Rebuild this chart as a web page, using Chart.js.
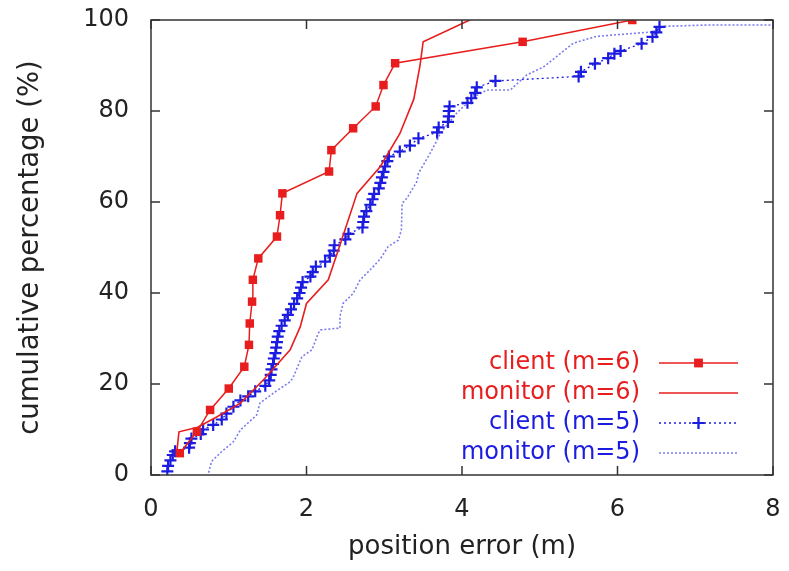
<!DOCTYPE html>
<html>
<head>
<meta charset="utf-8">
<script src="https://cdn.jsdelivr.net/npm/chart.js@4/dist/chart.umd.min.js"></script>
<style>
  html, body { margin: 0; padding: 0; background: #fff; }
  #wrap { width: 789px; height: 571px; }
</style>
</head>
<body>
<div id="wrap"><canvas id="cdfChart"></canvas></div>
<script>
// series values (x = position error in m, y = cumulative %)
const clientM6X = [0.37, 0.59, 0.76, 1.0, 1.2, 1.26, 1.27, 1.3, 1.31, 1.38, 1.62, 1.66, 1.69, 2.29, 2.32, 2.6, 2.89, 2.99, 3.14, 4.78, 6.19];
const clientM6Y = [4.8, 9.5, 14.3, 19.0, 23.8, 28.6, 33.3, 38.1, 42.9, 47.6, 52.4, 57.1, 61.9, 66.7, 71.4, 76.2, 81.0, 85.7, 90.5, 95.2, 100];

const monitorM6X = [0.33, 0.36, 0.6, 0.85, 1.15, 1.45, 1.79, 1.92, 2.0, 2.28, 2.42, 2.65, 2.95, 3.2, 3.38, 3.46, 3.5, 4.1];
const monitorM6Y = [4.8, 9.5, 10.5, 12.8, 15.8, 21.0, 27.5, 32.6, 37.7, 42.9, 50.0, 61.9, 67.8, 75.0, 82.6, 90.0, 95.2, 100];

const clientM5X = [0.21, 0.22, 0.25, 0.28, 0.31, 0.49, 0.5, 0.52, 0.64, 0.67, 0.8, 0.91, 0.97, 1.06, 1.15, 1.25, 1.34, 1.47, 1.52, 1.54,
  1.55, 1.57, 1.58, 1.6, 1.61, 1.62, 1.63, 1.65, 1.68, 1.72, 1.76, 1.8, 1.84, 1.88, 1.91, 1.93, 1.95, 2.05, 2.08, 2.12,
  2.24, 2.3, 2.35, 2.36, 2.5, 2.54, 2.72, 2.73, 2.74, 2.77, 2.82, 2.85, 2.87, 2.93, 2.95, 2.97, 2.99, 3.01, 3.04, 3.06,
  3.2, 3.33, 3.44, 3.68, 3.7, 3.82, 3.83, 3.83, 3.84, 4.07, 4.12, 4.17, 4.19, 4.43, 5.5, 5.53, 5.71, 5.88, 5.96, 6.04,
  6.31, 6.45, 6.5, 6.54];
const clientM5Y = [0.8, 2.0, 3.2, 4.4, 5.2, 6.0, 7.0, 8.0, 9.0, 10.0, 11.0, 12.2, 13.5, 15.0, 16.4, 17.3, 18.4, 19.6, 20.8, 22.0,
  23.2, 24.4, 25.6, 26.8, 28.0, 29.2, 30.4, 31.6, 32.8, 34.0, 35.2, 36.4, 37.6, 38.8, 40.0, 41.2, 42.4, 43.6, 44.6, 45.8,
  46.9, 48.2, 49.3, 50.5, 51.8, 53.0, 54.4, 55.6, 56.8, 58.0, 59.4, 60.6, 61.8, 63.0, 64.2, 65.4, 66.6, 67.8, 69.0, 70.0,
  71.1, 72.4, 74.0, 75.3, 76.4, 77.6, 78.8, 80.0, 81.0, 81.8, 82.8, 84.0, 85.2, 86.6, 87.6, 88.6, 90.4, 91.6, 92.6, 93.2,
  94.8, 96.3, 97.3, 98.5];

const monitorM5X = [0.74, 0.78, 0.9, 1.06, 1.15, 1.36, 1.4, 1.6, 1.79, 1.83, 1.94, 2.07, 2.15, 2.18, 2.43, 2.43, 2.47, 2.6, 2.69, 2.82,
  2.95, 3.05, 3.18, 3.22, 3.23, 3.29, 3.42, 3.44, 3.59, 3.68, 3.72, 3.93, 4.15, 4.32, 4.62, 4.83, 5.05, 5.43, 5.73, 6.46,
  6.59, 7.15, 8.0];
const monitorM5Y = [0.5, 3.0, 5.0, 7.3, 9.9, 13.2, 15.8, 18.3, 20.5, 21.5, 26.0, 27.5, 31.1, 31.9, 32.3, 34.8, 37.7, 39.9, 42.9, 45.1,
  47.5, 50.2, 51.6, 53.8, 59.7, 60.8, 64.5, 66.3, 70.7, 73.6, 75.1, 79.5, 83.1, 84.6, 84.6, 87.9, 89.7, 94.9, 96.4, 97.4,
  98.6, 98.9, 98.9];

const seriesLabels = ["client (m=6)", "monitor (m=6)", "client (m=5)", "monitor (m=5)"];
const xTicks = [0, 2, 4, 6, 8];
const yTicks = [0, 20, 40, 60, 80, 100];

const FONT = "'DejaVu Sans', sans-serif";
const RED = "#e81e1e";
const BLUE = "#1c1ce0";
const LIGHTBLUE = "#7c7cee";

function pairs(xs, ys) {
  return xs.map((x, i) => ({ x: x, y: ys[i] }));
}

// no extra room for overflowing tick labels, the layout padding decides the plot box
function noOverflow(scale) {
  scale.paddingTop = 0;
  scale.paddingBottom = 0;
  scale.paddingLeft = 0;
  scale.paddingRight = 0;
}

// frame with inward ticks on all four sides (gnuplot look)
const framePlugin = {
  id: "frame",
  afterDatasetsDraw(chart) {
    const { ctx, chartArea: a, scales } = chart;
    const len = 9;
    ctx.save();
    ctx.strokeStyle = "#333";
    ctx.lineWidth = 1.5;
    ctx.strokeRect(a.left, a.top, a.right - a.left, a.bottom - a.top);
    ctx.beginPath();
    xTicks.forEach((v) => {
      const px = scales.x.getPixelForValue(v);
      ctx.moveTo(px, a.bottom); ctx.lineTo(px, a.bottom - len);
      ctx.moveTo(px, a.top); ctx.lineTo(px, a.top + len);
    });
    yTicks.forEach((v) => {
      const py = scales.y.getPixelForValue(v);
      ctx.moveTo(a.left, py); ctx.lineTo(a.left + len, py);
      ctx.moveTo(a.right, py); ctx.lineTo(a.right - len, py);
    });
    ctx.stroke();
    ctx.restore();
  },
};

// key inside the plot: right aligned coloured text, sample on the right
const keyPlugin = {
  id: "key",
  afterDraw(chart) {
    const { ctx, chartArea: a } = chart;
    const textRight = a.right - 133;
    const sx0 = a.right - 114;
    const sx1 = a.right - 35;
    const textColors = [RED, RED, BLUE, BLUE];
    ctx.save();
    ctx.font = "24px " + FONT;
    ctx.textAlign = "right";
    ctx.textBaseline = "middle";
    chart.data.datasets.forEach((ds, i) => {
      const y = a.bottom - 112 + 30 * i;
      ctx.fillStyle = textColors[i];
      ctx.fillText(seriesLabels[i], textRight, y);
      ctx.strokeStyle = ds.borderColor;
      ctx.lineWidth = ds.borderWidth;
      ctx.setLineDash(ds.borderDash || []);
      ctx.beginPath();
      ctx.moveTo(sx0, y);
      ctx.lineTo(sx1, y);
      ctx.stroke();
      ctx.setLineDash([]);
      if (ds.pointRadius > 0) {
        Chart.helpers.drawPoint(ctx, {
          pointStyle: ds.pointStyle,
          radius: ds.pointRadius,
          borderWidth: ds.pointBorderWidth,
        }, (sx0 + sx1) / 2, y);
        if (ds.pointStyle === "rect") {
          ctx.fillStyle = ds.pointBackgroundColor;
          ctx.fill();
        } else {
          ctx.strokeStyle = ds.pointBorderColor;
          ctx.lineWidth = ds.pointBorderWidth;
          ctx.stroke();
        }
      }
    });
    ctx.restore();
  },
};

const ctx = document.getElementById("cdfChart").getContext("2d");

new Chart(ctx, {
  type: "scatter",
  data: {
    datasets: [
      {
        label: seriesLabels[0],
        data: pairs(clientM6X, clientM6Y),
        showLine: true,
        borderColor: RED,
        borderWidth: 1.5,
        pointStyle: "rect",
        pointRadius: 6,
        pointBackgroundColor: RED,
        pointBorderColor: RED,
        pointBorderWidth: 0,
        tension: 0,
      },
      {
        label: seriesLabels[1],
        data: pairs(monitorM6X, monitorM6Y),
        showLine: true,
        borderColor: RED,
        borderWidth: 1.6,
        pointRadius: 0,
        tension: 0,
      },
      {
        label: seriesLabels[2],
        data: pairs(clientM5X, clientM5Y),
        showLine: true,
        borderColor: BLUE,
        borderWidth: 1.3,
        borderDash: [2, 3],
        pointStyle: "cross",
        pointRadius: 6,
        pointBorderColor: BLUE,
        pointBorderWidth: 2.2,
        tension: 0,
      },
      {
        label: seriesLabels[3],
        data: pairs(monitorM5X, monitorM5Y),
        showLine: true,
        borderColor: LIGHTBLUE,
        borderWidth: 1.6,
        borderDash: [2, 2],
        pointRadius: 0,
        tension: 0,
      },
    ],
  },
  options: {
    responsive: true,
    maintainAspectRatio: false,
    animation: false,
    layout: { padding: { top: 20, right: 16, bottom: 0, left: 0 } },
    plugins: {
      legend: { display: false },
      tooltip: { enabled: false },
    },
    scales: {
      x: {
        type: "linear",
        min: 0,
        max: 8,
        afterFit: (scale) => { scale.height = 96; noOverflow(scale); },
        afterBuildTicks: (scale) => { scale.ticks = xTicks.map((v) => ({ value: v })); },
        grid: { display: false },
        border: { display: false },
        ticks: { color: "#222", padding: 12, font: { family: FONT, size: 24 } },
        title: {
          display: true,
          text: "position error (m)",
          color: "#222",
          padding: { top: 0, bottom: 8 },
          font: { family: FONT, size: 26 },
        },
      },
      y: {
        type: "linear",
        min: 0,
        max: 100,
        afterFit: (scale) => { scale.width = 151; noOverflow(scale); },
        afterBuildTicks: (scale) => { scale.ticks = yTicks.map((v) => ({ value: v })); },
        grid: { display: false },
        border: { display: false },
        ticks: { color: "#222", padding: 14, font: { family: FONT, size: 24 } },
        title: {
          display: true,
          text: "cumulative percentage (%)",
          color: "#222",
          padding: { top: 14, bottom: 0 },
          font: { family: FONT, size: 27.5 },
        },
      },
    },
  },
  plugins: [framePlugin, keyPlugin],
});
</script>
</body>
</html>
